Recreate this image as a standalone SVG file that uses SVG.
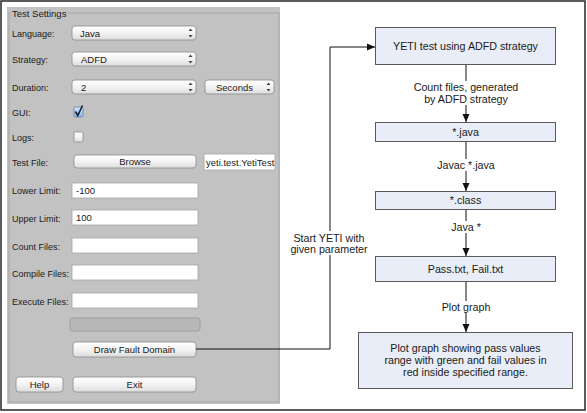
<svg xmlns="http://www.w3.org/2000/svg" width="587" height="413" viewBox="0 0 587 413">
<defs>
<linearGradient id="btn" x1="0" y1="0" x2="0" y2="1">
<stop offset="0" stop-color="#ffffff"/>
<stop offset="0.5" stop-color="#f3f3f3"/>
<stop offset="1" stop-color="#dcdcdc"/>
</linearGradient>
<linearGradient id="chk" x1="0" y1="0" x2="0" y2="1">
<stop offset="0" stop-color="#d6e6fb"/>
<stop offset="1" stop-color="#8fb6ea"/>
</linearGradient>
<marker id="arr" viewBox="0 0 8 8" refX="8" refY="4" markerWidth="8" markerHeight="8" markerUnits="userSpaceOnUse" orient="auto">
<path d="M0,0.5 L8,4 L0,7.5 Z" fill="#111"/>
</marker>
</defs>
<style>
.ui{font-family:"Liberation Sans",Arial,sans-serif;font-size:9.5px;fill:#1a1a1a}
.lab{font-family:"Liberation Sans",Arial,sans-serif;font-size:9px;fill:#1a1a1a}
.uc{font-family:"Liberation Sans",Arial,sans-serif;font-size:9.5px;fill:#1a1a1a;text-anchor:middle}
.combo{fill:url(#btn);stroke:#8c8c8c;stroke-width:0.8}
.button{fill:url(#btn);stroke:#8c8c8c;stroke-width:0.8}
.field{fill:#ffffff;stroke:#a5a5a5;stroke-width:0.8}
.spin{fill:#444}
.box{fill:#e8edf7;stroke:#5a5a5a;stroke-width:1}
.bt{font-family:"Liberation Sans",Arial,sans-serif;font-size:10.7px;fill:#1a1a1a;text-anchor:middle}
.lbl{font-family:"Liberation Sans",Arial,sans-serif;font-size:10.7px;fill:#1a1a1a;text-anchor:middle}
.conn{fill:none;stroke:#111;stroke-width:1}
</style>
<rect x="0" y="0" width="587" height="413" fill="#ffffff"/>
<rect x="1" y="1" width="584" height="409" fill="none" stroke="#333" stroke-width="1.6"/>

<g id="panel">
<rect x="7" y="7" width="273" height="397" fill="#c2c2c2"/>
<rect x="9" y="13" width="270" height="389" fill="none" stroke="#a6a6a6" stroke-width="1"/>
<rect x="11" y="8" width="54" height="10" fill="#c2c2c2"/>
<text class="ui" x="12" y="16.5">Test Settings</text>
</g>

<g id="language">
<text class="lab" x="12" y="36.5">Language:</text>
<rect class="combo" x="72" y="26" width="124" height="14" rx="3" stroke="#7fa3d8" stroke-width="1.2"/>
<text class="ui" x="80" y="36.5">Java</text>
<path class="spin" d="M188.5,31 l2,-2.5 l2,2.5 z M188.5,35 l2,2.5 l2,-2.5 z"/>
</g>

<g id="strategy">
<text class="lab" x="12" y="62.5">Strategy:</text>
<rect class="combo" x="72" y="52" width="124" height="14" rx="3"/>
<text class="ui" x="81" y="62.5">ADFD</text>
<path class="spin" d="M188.5,57 l2,-2.5 l2,2.5 z M188.5,61 l2,2.5 l2,-2.5 z"/>
</g>

<g id="duration">
<text class="lab" x="12" y="90.5">Duration:</text>
<rect class="combo" x="72" y="80" width="124" height="14" rx="3"/>
<text class="ui" x="81" y="90.5">2</text>
<path class="spin" d="M188.5,85 l2,-2.5 l2,2.5 z M188.5,89 l2,2.5 l2,-2.5 z"/>
<rect class="combo" x="205" y="80" width="69" height="14" rx="3"/>
<text class="ui" x="216" y="90.5">Seconds</text>
<path class="spin" d="M266.5,85 l2,-2.5 l2,2.5 z M266.5,89 l2,2.5 l2,-2.5 z"/>
</g>

<g id="gui">
<text class="lab" x="12" y="115.5">GUI:</text>
<rect x="74" y="107" width="9" height="10" rx="1.5" fill="url(#chk)" stroke="#6d7f9c" stroke-width="0.8"/>
<path d="M75.5,111.5 L77.8,115.5 L82.5,105.5" fill="none" stroke="#10203a" stroke-width="1.6"/>
</g>

<g id="logs">
<text class="lab" x="12" y="140.5">Logs:</text>
<rect x="74" y="132" width="9" height="10" rx="1.5" fill="url(#btn)" stroke="#8c8c8c" stroke-width="0.8"/>
</g>

<g id="testfile">
<text class="lab" x="12" y="165.5">Test File:</text>
<rect class="button" x="74" y="155" width="122" height="13" rx="3"/>
<text class="uc" x="135" y="165">Browse</text>
<rect class="field" x="204" y="154" width="71" height="16"/>
<text class="ui" x="206" y="165.5">yeti.test.YetiTest</text>
</g>

<g id="lowerlimit">
<text class="lab" x="12" y="193.5">Lower Limit:</text>
<rect class="field" x="72" y="183" width="126" height="15"/>
<text class="ui" x="76" y="193.5">-100</text>
</g>

<g id="upperlimit">
<text class="lab" x="12" y="221.5">Upper Limit:</text>
<rect class="field" x="72" y="210" width="126" height="15"/>
<text class="ui" x="76" y="221">100</text>
</g>

<g id="countfiles">
<text class="lab" x="12" y="249.5">Count Files:</text>
<rect class="field" x="72" y="238" width="126" height="15"/>
</g>

<g id="compilefiles">
<text class="lab" x="12" y="276.5">Compile Files:</text>
<rect class="field" x="72" y="265" width="126" height="15"/>
</g>

<g id="executefiles">
<text class="lab" x="12" y="304.5">Execute Files:</text>
<rect class="field" x="72" y="293" width="126" height="15"/>
</g>

<g id="progress">
<rect x="70" y="318" width="130" height="13" rx="2.5" fill="#b8b8b8" stroke="#979797" stroke-width="0.8"/>
</g>

<g id="drawfaultdomain">
<rect class="button" x="73" y="342" width="123" height="15" rx="3"/>
<text class="uc" x="134.5" y="353">Draw Fault Domain</text>
</g>

<g id="help">
<rect class="button" x="16" y="377" width="47" height="15" rx="3"/>
<text class="uc" x="39.5" y="388">Help</text>
</g>

<g id="exit">
<rect class="button" x="73" y="377" width="123" height="15" rx="3"/>
<text class="uc" x="134.5" y="388">Exit</text>
</g>

<g id="connectors">
<path class="conn" d="M196,349 H330 V47 H375" marker-end="url(#arr)"/>
<path class="conn" d="M466,65 V122" marker-end="url(#arr)"/>
<path class="conn" d="M466,142 V191" marker-end="url(#arr)"/>
<path class="conn" d="M466,210 V256" marker-end="url(#arr)"/>
<path class="conn" d="M466,282 V332" marker-end="url(#arr)"/>
<rect x="292" y="231" width="76" height="24" fill="#ffffff"/>
<text class="lbl" x="329" y="241.8">Start YETI with</text>
<text class="lbl" x="329" y="252.8">given parameter</text>
<rect x="410" y="81" width="112" height="24" fill="#ffffff"/>
<text class="lbl" x="466" y="90.8">Count files, generated</text>
<text class="lbl" x="466" y="102.8">by ADFD strategy</text>
<rect x="432" y="159" width="68" height="12" fill="#ffffff"/>
<text class="lbl" x="466" y="168.8">Javac *.java</text>
<rect x="446" y="221" width="40" height="12" fill="#ffffff"/>
<text class="lbl" x="466" y="230.8">Java *</text>
<rect x="438" y="301" width="56" height="12" fill="#ffffff"/>
<text class="lbl" x="466" y="310.8">Plot graph</text>
</g>

<g id="node-yeti">
<rect class="box" x="375.5" y="27.5" width="180" height="37"/>
<text class="bt" x="465.5" y="49.8">YETI test using ADFD strategy</text>
</g>
<g id="node-java">
<rect class="box" x="375.5" y="122.5" width="180" height="19"/>
<text class="bt" x="465.5" y="135.8">*.java</text>
</g>
<g id="node-class">
<rect class="box" x="375.5" y="191.5" width="180" height="18"/>
<text class="bt" x="465.5" y="204.3">*.class</text>
</g>
<g id="node-pass">
<rect class="box" x="375.5" y="256.5" width="180" height="25"/>
<text class="bt" x="465.5" y="273.3">Pass.txt, Fail.txt</text>
</g>
<g id="node-plot">
<rect class="box" x="358.5" y="332.5" width="214" height="56"/>
<text class="bt" x="465.5" y="351.8">Plot graph showing pass values</text>
<text class="bt" x="465.5" y="363.8">range with green and fail values in</text>
<text class="bt" x="465.5" y="375.8">red inside specified range.</text>
</g>
</svg>
